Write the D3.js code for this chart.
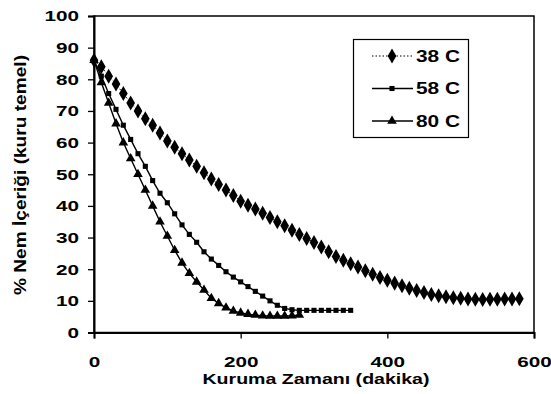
<!DOCTYPE html>
<html>
<head>
<meta charset="utf-8">
<script src="https://cdn.jsdelivr.net/npm/d3@7"></script>
<style>
  body { margin: 0; background: #fff; }
  text { font-family: "Liberation Sans", Arial, sans-serif; font-weight: bold; fill: #000; }
</style>
</head>
<body>
<svg width="551" height="394"></svg>
<script>
// data (time in minutes, moisture %)
var t38 = d3.range(0, 581, 10);
var v38 = [86,84,81,78.5,75.5,72.5,70,67.5,65.5,63,60.5,58.5,56.5,54.5,52.5,50.5,48.5,46.8,45,43.3,
           41.5,40.2,39,37.7,36.3,35,33.7,32.3,31,29.7,28.4,27,25.5,24,22.8,21.7,20.7,19.5,18.4,17.4,
           16.5,15.6,14.8,14,13.3,12.6,12,11.6,11.3,11,10.8,10.6,10.5,10.4,10.5,10.5,10.6,10.6,10.7];
var t58 = d3.range(0, 351, 10);
var v58 = [86,81,75.5,70.5,65.5,61,56.5,52.5,48,44,41,37.5,34,31,28.5,25.5,23.2,21.2,19.2,17.5,
           16,14.5,13,11.5,10,8.6,7.6,7.2,7,7,7,7,7,7,7,7];
var t80 = d3.range(0, 281, 10);
var v80 = [86,79,72.5,66,60,55,50,45,40,35,30.5,26,22,18.7,16,13.4,10.8,9.2,7.8,6.8,
           6.2,5.8,5.5,5.3,5.2,5.2,5.2,5.3,5.5];
var labels = ["38 C", "58 C", "80 C"];
var xTicks = [0, 200, 400, 600];
var yTicks = [0, 10, 20, 30, 40, 50, 60, 70, 80, 90, 100];

var series = [
  {name: labels[0], t: t38, v: v38, sym: d3.symbolDiamond, size: 65, dash: "1.5,2", lw: 1},
  {name: labels[1], t: t58, v: v58, sym: d3.symbolSquare, size: 26, dash: null, lw: 1.4},
  {name: labels[2], t: t80, v: v80, sym: d3.symbolTriangle, size: 40, dash: null, lw: 1.4}
];

var svg = d3.select("svg");
var x = d3.scaleLinear().domain([0, 600]).range([94, 534]);
var y = d3.scaleLinear().domain([0, 100]).range([332.5, 16]);

// frame
svg.append("rect")
   .attr("x", 94).attr("y", 16)
   .attr("width", 440).attr("height", 316.5)
   .attr("fill", "none").attr("stroke", "#000").attr("stroke-width", 1.5);

var yAxis = svg.append("g")
   .attr("transform", "translate(94,0)")
   .call(d3.axisLeft(y).tickValues(yTicks).tickSize(6).tickPadding(9));
var xAxis = svg.append("g")
   .attr("transform", "translate(0,332.5)")
   .call(d3.axisBottom(x).tickValues(xTicks).tickSize(6).tickPadding(18));

[yAxis, xAxis].forEach(function(ax)
{
  ax.select(".domain").attr("stroke-width", 2);
  ax.selectAll(".tick line").attr("stroke-width", 1.3);
  ax.selectAll("text")
    .attr("font-size", 15)
    .attr("font-family", "Liberation Sans, Arial, sans-serif")
    .attr("font-weight", "bold")
    .attr("lengthAdjust", "spacingAndGlyphs")
    .attr("textLength", function(d){ return String(d).length * 11.5; });
});

// lines and markers
var line = d3.line()
   .x(function(d){ return x(d[0]); })
   .y(function(d){ return y(d[1]); });

series.forEach(function(s)
{
  var pts = s.t.map(function(t, i){ return [t, s.v[i]]; });
  svg.append("path")
     .datum(pts)
     .attr("d", line)
     .attr("fill", "none")
     .attr("stroke", "#000")
     .attr("stroke-width", s.lw)
     .attr("stroke-dasharray", s.dash);
  svg.append("g").selectAll("path")
     .data(pts)
     .enter()
     .append("path")
     .attr("transform", function(d){ return "translate(" + x(d[0]) + "," + y(d[1]) + ")"; })
     .attr("d", d3.symbol().type(s.sym).size(s.size))
     .attr("fill", "#000");
});

// legend
var lg = svg.append("g");
lg.append("rect")
  .attr("x", 353.5).attr("y", 39.5).attr("width", 115).attr("height", 98)
  .attr("fill", "#fff").attr("stroke", "#000").attr("stroke-width", 1.2);
var ly = [56, 88.5, 121];
series.forEach(function(s, i)
{
  lg.append("line")
    .attr("x1", 372).attr("x2", 413).attr("y1", ly[i]).attr("y2", ly[i])
    .attr("stroke", "#000").attr("stroke-width", s.lw)
    .attr("stroke-dasharray", s.dash);
  lg.append("path")
    .attr("transform", "translate(392," + ly[i] + ")")
    .attr("d", d3.symbol().type(s.sym).size(s.size))
    .attr("fill", "#000");
  lg.append("text")
    .attr("x", 416).attr("y", ly[i] + 5.5)
    .attr("font-size", 16)
    .attr("lengthAdjust", "spacingAndGlyphs")
    .attr("textLength", 44)
    .text(s.name);
});

// axis titles
svg.append("text")
   .attr("x", 316).attr("y", 384)
   .attr("text-anchor", "middle")
   .attr("font-size", 14.5)
   .attr("lengthAdjust", "spacingAndGlyphs")
   .attr("textLength", 227)
   .text("Kuruma Zamanı (dakika)");

svg.append("text")
   .attr("transform", "translate(26,175) rotate(-90)")
   .attr("text-anchor", "middle")
   .attr("font-size", 16)
   .attr("lengthAdjust", "spacingAndGlyphs")
   .attr("textLength", 240)
   .text("% Nem İçeriği (kuru temel)");
</script>
</body>
</html>
